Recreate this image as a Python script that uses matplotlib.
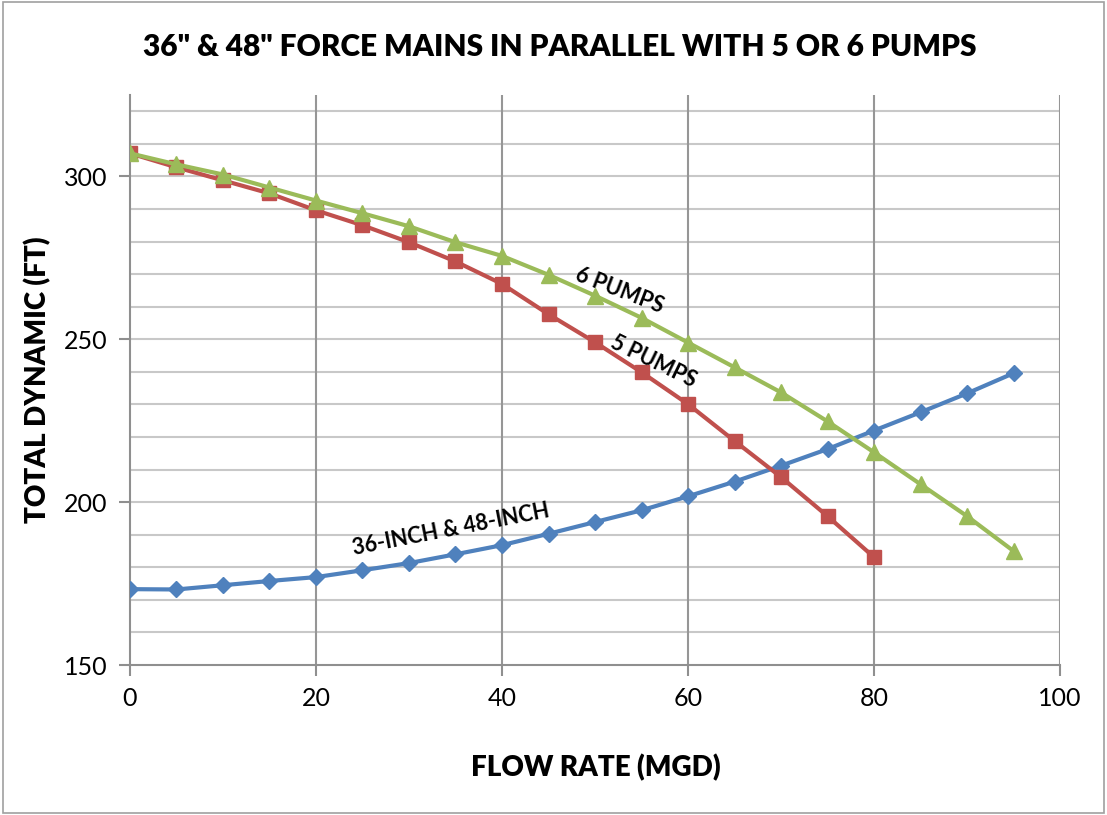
import matplotlib
matplotlib.use('Agg')
import matplotlib.pyplot as plt
from matplotlib.patches import Rectangle

plt.rcParams['font.family'] = ['Lato', 'DejaVu Sans']

# flow rate (MGD)
flow_pipe = [0, 5, 10, 15, 20, 25, 30, 35, 40, 45, 50, 55, 60, 65, 70, 75, 80, 85, 90, 95]
flow_5 = [0, 5, 10, 15, 20, 25, 30, 35, 40, 45, 50, 55, 60, 65, 70, 75, 80]
flow_6 = [0, 5, 10, 15, 20, 25, 30, 35, 40, 45, 50, 55, 60, 65, 70, 75, 80, 85, 90, 95]

# total dynamic head (FT)
head_pipe = [173.3, 173.2, 174.5, 175.8, 177.0, 179.1, 181.3, 184.0, 186.8, 190.3,
             193.9, 197.5, 201.8, 206.3, 211.2, 216.3, 222.0, 227.6, 233.4, 239.6]
head_5 = [307.1, 302.8, 298.8, 294.8, 289.6, 285.0, 279.8, 273.9, 267.0, 257.7,
          249.1, 239.9, 230.1, 218.8, 207.7, 195.7, 183.1]
head_6 = [307.1, 303.7, 300.6, 296.6, 292.6, 288.7, 284.7, 279.8, 275.6, 269.8,
          263.4, 256.6, 249.0, 241.4, 233.7, 224.8, 215.3, 205.5, 195.7, 185.0]

blue = '#4F81BD'
red = '#C0504D'
green = '#9BBB59'

fig = plt.figure(figsize=(11.07, 8.15), dpi=100)
fig.patches.append(Rectangle((0.003, 0.003), 0.994, 0.994, transform=fig.transFigure,
                             fill=False, edgecolor='#a0a0a0', linewidth=1.2))

ax = fig.add_axes([0.1174, 0.184, 0.8402, 0.6994])

# gridlines
for y in range(160, 330, 10):
    ax.axhline(y, color='#c8c8c8', linewidth=1.5, zorder=0)
for x in range(20, 101, 20):
    ax.axvline(x, color='#969696', linewidth=1.5, zorder=0)

ax.plot(flow_pipe, head_pipe, color=blue, linewidth=3, marker='D', markersize=8, zorder=3)
ax.plot(flow_5, head_5, color=red, linewidth=3, marker='s', markersize=10, zorder=3)
ax.plot(flow_6, head_6, color=green, linewidth=3, marker='^', markersize=11, zorder=4)

ax.set_xlim(0, 100)
ax.set_ylim(150, 325)
ax.set_xticks([0, 20, 40, 60, 80, 100])
ax.set_yticks([150, 200, 250, 300])

for side in ['top', 'right']:
    ax.spines[side].set_visible(False)
for side in ['left', 'bottom']:
    ax.spines[side].set_color('#8f8f8f')
    ax.spines[side].set_linewidth(1.5)
ax.tick_params(axis='both', length=8, width=1.5, color='#8f8f8f', labelsize=18, pad=8)

ax.text(620 / 1107, 1 - 291 / 815, '6 PUMPS', transform=fig.transFigure, rotation=-21,
        ha='center', va='center', fontsize=15.5, fontweight='bold', zorder=5)
ax.text(653 / 1107, 1 - 361 / 815, '5 PUMPS', transform=fig.transFigure, rotation=-26,
        ha='center', va='center', fontsize=15.5, fontweight='bold', zorder=5)
ax.text(451 / 1107, 1 - 530 / 815, '36-INCH & 48-INCH', transform=fig.transFigure, rotation=11,
        ha='center', va='center', fontsize=15.5, fontweight='bold', zorder=5)

fig.text(560 / 1107, 1 - 47 / 815, '36" & 48" FORCE MAINS IN PARALLEL WITH 5 OR 6 PUMPS',
         ha='center', va='center', fontsize=21.5, fontweight='heavy')
fig.text(596 / 1107, 1 - 768 / 815, 'FLOW RATE (MGD)', ha='center', va='center',
         fontsize=20, fontweight='heavy')
fig.text(38 / 1107, 1 - 380 / 815, 'TOTAL DYNAMIC (FT)', ha='center', va='center',
         rotation=90, fontsize=20, fontweight='heavy')

fig.savefig('out.png', dpi=100)
